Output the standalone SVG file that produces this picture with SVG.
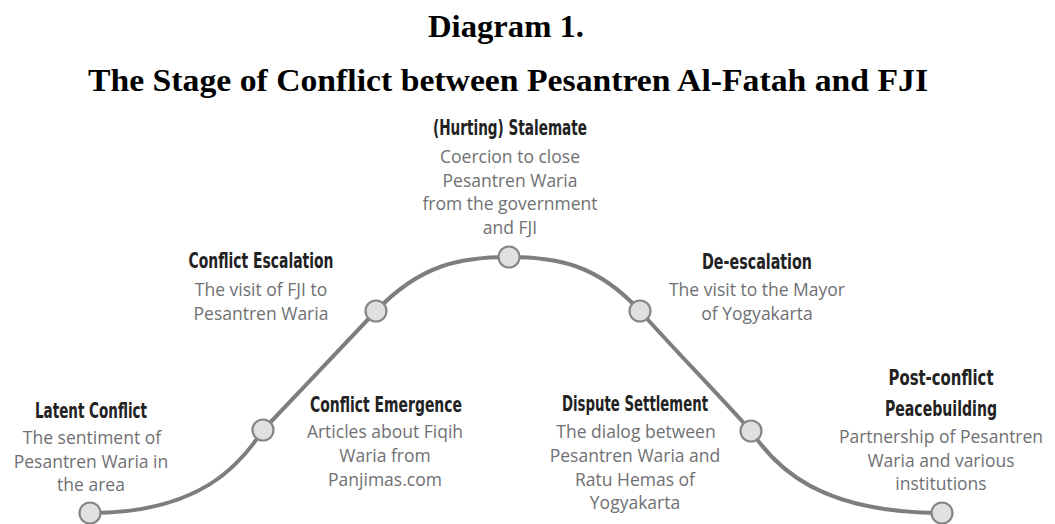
<svg xmlns="http://www.w3.org/2000/svg" width="1055" height="524" viewBox="0 0 1055 524">
<style>
.title{font-family:"Liberation Serif","Times New Roman",serif;font-weight:bold;font-size:32px;fill:#000;text-anchor:middle}
.hd{font-family:"Liberation Sans Narrow","DejaVu Sans Condensed","Liberation Sans",sans-serif;font-weight:bold;font-size:22px;fill:#222;text-anchor:middle}
.bd{font-family:"Open Sans","Noto Sans",sans-serif;font-size:17.5px;fill:#6f7073;text-anchor:middle}
.node{fill:#e0e0e0;stroke:#858585;stroke-width:2.2}
.curve{fill:none;stroke:#7e7e7e;stroke-width:4;stroke-linecap:round}
</style>
<rect width="1055" height="524" fill="#fff"/>
<g id="title">
<text class="title" x="506" y="37" textLength="156" lengthAdjust="spacingAndGlyphs">Diagram 1.</text>
<text class="title" x="508" y="91" textLength="840" lengthAdjust="spacingAndGlyphs">The Stage of Conflict between Pesantren Al-Fatah and FJI</text>
</g>
<g id="connectors">
<path class="curve" d="M90,513 C200,513 240,465 263,430 C300,391 340,349 376,311 C420,265 460,257 509,257 C558,257 598,265 640,311 C674,349 715,391 751,431 C776,468 820,513 942,513"/>
</g>
<g id="latent">
<circle class="node" cx="90" cy="513" r="10.5"/>
<text class="hd" x="91" y="418" textLength="112" lengthAdjust="spacingAndGlyphs">Latent Conflict</text>
<text class="bd" x="92" y="444">The sentiment of</text>
<text class="bd" x="91" y="467.5">Pesantren Waria in</text>
<text class="bd" x="91" y="491">the area</text>
</g>
<g id="emergence">
<circle class="node" cx="263" cy="430" r="10.5"/>
<text class="hd" x="386" y="412" textLength="152" lengthAdjust="spacingAndGlyphs">Conflict Emergence</text>
<text class="bd" x="385" y="438">Articles about Fiqih</text>
<text class="bd" x="385" y="462">Waria from</text>
<text class="bd" x="385" y="485.5">Panjimas.com</text>
</g>
<g id="escalation">
<circle class="node" cx="376" cy="311" r="10.5"/>
<text class="hd" x="261" y="268" textLength="145" lengthAdjust="spacingAndGlyphs">Conflict Escalation</text>
<text class="bd" x="261" y="296">The visit of FJI to</text>
<text class="bd" x="261" y="319.5">Pesantren Waria</text>
</g>
<g id="stalemate">
<circle class="node" cx="509" cy="257" r="10.5"/>
<text class="hd" x="510" y="135" textLength="154" lengthAdjust="spacingAndGlyphs">(Hurting) Stalemate</text>
<text class="bd" x="510" y="163">Coercion to close</text>
<text class="bd" x="510" y="186.5">Pesantren Waria</text>
<text class="bd" x="510" y="210">from the government</text>
<text class="bd" x="510" y="234">and FJI</text>
</g>
<g id="deescalation">
<circle class="node" cx="640" cy="311" r="10.5"/>
<text class="hd" x="757" y="269" textLength="110" lengthAdjust="spacingAndGlyphs">De-escalation</text>
<text class="bd" x="757" y="296">The visit to the Mayor</text>
<text class="bd" x="757" y="319.5">of Yogyakarta</text>
</g>
<g id="dispute">
<circle class="node" cx="751" cy="431" r="10.5"/>
<text class="hd" x="635" y="411" textLength="146" lengthAdjust="spacingAndGlyphs">Dispute Settlement</text>
<text class="bd" x="636" y="438">The dialog between</text>
<text class="bd" x="635" y="462">Pesantren Waria and</text>
<text class="bd" x="635" y="485.5">Ratu Hemas of</text>
<text class="bd" x="635" y="509">Yogyakarta</text>
</g>
<g id="postconflict">
<circle class="node" cx="942" cy="513" r="10.5"/>
<text class="hd" x="941" y="385" textLength="105" lengthAdjust="spacingAndGlyphs">Post-conflict</text>
<text class="hd" x="941" y="416" textLength="112" lengthAdjust="spacingAndGlyphs">Peacebuilding</text>
<text class="bd" x="941" y="443">Partnership of Pesantren</text>
<text class="bd" x="941" y="467">Waria and various</text>
<text class="bd" x="941" y="490">institutions</text>
</g>
</svg>
